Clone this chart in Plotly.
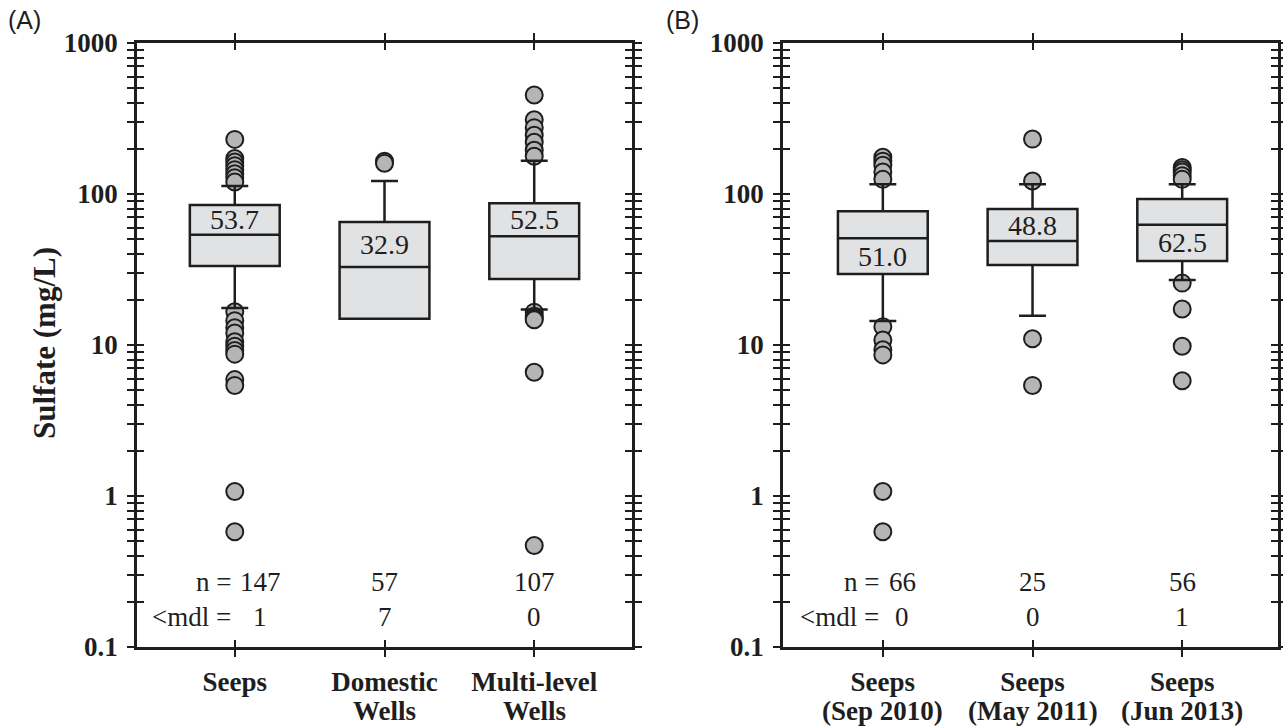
import plotly.graph_objects as go
import math

# ---------------- data ----------------
cat_pos = [0, 1, 2]
catA_line1 = ["Seeps", "Domestic", "Multi-level"]
catA_line2 = ["", "Wells", "Wells"]
catB_line1 = ["Seeps", "Seeps", "Seeps"]
catB_line2 = ["(Sep 2010)", "(May 2011)", "(Jun 2013)"]

q1_A = [33.4, 14.9, 27.4]
med_A = [53.7, 32.9, 52.5]
q3_A = [84.5, 65.3, 87.0]
lo_A = [17.6, 14.9, 17.2]
hi_A = [113, 122, 166]
out_A = [
    [230, 172, 163, 154, 145, 136, 128, 120, 16.6, 14.5, 13.0, 12.0, 10.5, 9.8, 9.2, 8.7, 5.9, 5.4, 1.07, 0.58],
    [165, 160],
    [453, 310, 275, 245, 220, 195, 178, 16.5, 15.5, 15.0, 14.7, 6.6, 0.47],
]
labelside_A = ["above", "above", "above"]
n_A = [147, 57, 107]
mdl_A = [1, 7, 0]

q1_B = [29.5, 33.9, 36.0]
med_B = [51.0, 48.8, 62.5]
q3_B = [77.0, 79.5, 92.7]
lo_B = [14.4, 15.6, 26.9]
hi_B = [116, 116, 116]
out_B = [
    [175, 165, 155, 140, 125, 13.2, 10.8, 9.3, 8.6, 1.07, 0.58],
    [231, 122, 11.0, 5.4],
    [150, 145, 140, 132, 125, 25.7, 17.3, 9.8, 5.8],
]
labelside_B = ["below", "above", "below"]
n_B = [66, 25, 56]
mdl_B = [0, 0, 1]

ytick_vals = [m * 10.0 ** e for e in range(-1, 3) for m in range(1, 10)] + [1000.0]
ytick_major = {0.1: "0.1", 1.0: "1", 10.0: "10", 100.0: "100", 1000.0: "1000"}

# ---------------- style ----------------
W, H = 1283, 727
INK = "#1e1e1e"
BOXFILL = "#e1e2e4"
PTFILL = "#b4b5b7"
SERIF = "Liberation Serif"
SANS = "Liberation Sans"
ydom = [1 - 647 / H, 1 - 43 / H]
xdomA = [137 / W, 632 / W]
xdomB = [783 / W, 1278 / W]
xrangeA = [-0.653, 2.653]
xrangeB = [-0.667, 2.64]
FS = 27


def ytext(v):
    for k, s in ytick_major.items():
        if abs(v - k) < 1e-9 * max(1, k):
            return "<b>" + s + "</b>"
    return ""


yticktext = [ytext(v) for v in ytick_vals]

fig = go.Figure()


def add_panel(xa, ya, xo, yo, q1, med, q3, lo, hi, outs):
    for i, vals in enumerate(outs):
        fig.add_trace(go.Scatter(
            x=[cat_pos[i]] * len(vals), y=vals, mode="markers",
            marker=dict(symbol="circle", size=17, color=PTFILL,
                        line=dict(color=INK, width=2)),
            xaxis=xa, yaxis=ya, showlegend=False, hoverinfo="skip"))
    fig.add_trace(go.Box(
        x=cat_pos, q1=q1, median=med, q3=q3, lowerfence=lo, upperfence=hi,
        width=0.6, whiskerwidth=0.3, fillcolor=BOXFILL,
        line=dict(color=INK, width=2.5), boxpoints=False,
        xaxis=xo, yaxis=yo, showlegend=False, hoverinfo="skip"))


add_panel("x", "y", "x3", "y3", q1_A, med_A, q3_A, lo_A, hi_A, out_A)
add_panel("x2", "y2", "x4", "y4", q1_B, med_B, q3_B, lo_B, hi_B, out_B)

common_line = dict(showline=True, linecolor=INK, linewidth=2.5, showgrid=False,
                   zeroline=False, tickcolor=INK, tickwidth=2, ticklen=7,
                   automargin=False)


def yaxis_main(anchor):
    return dict(type="log", range=[-1, 3], domain=ydom, anchor=anchor,
                tickmode="array", tickvals=ytick_vals, ticktext=yticktext,
                ticks="outside", mirror="ticks",
                tickfont=dict(family=SERIF, size=FS, color=INK),
                ticklabelstandoff=4, **common_line)


def yaxis_over(anchor, over):
    return dict(type="log", range=[-1, 3], domain=ydom, anchor=anchor,
                overlaying=over, tickmode="array", tickvals=ytick_vals,
                ticks="inside", mirror="ticks", showticklabels=False, **common_line)


def xaxis_main(anchor, dom, rng, text):
    return dict(range=rng, domain=dom, anchor=anchor, tickmode="array",
                tickvals=cat_pos, ticktext=["<b>" + t + "</b>" for t in text],
                ticks="outside", mirror="ticks",
                tickfont=dict(family=SERIF, size=FS, color=INK),
                ticklabelstandoff=2, **common_line)


def xaxis_over(anchor, dom, rng, over):
    return dict(range=rng, domain=dom, anchor=anchor, overlaying=over,
                tickmode="array", tickvals=cat_pos, ticks="inside",
                mirror="ticks", showticklabels=False, **common_line)


fig.update_layout(
    width=W, height=H, margin=dict(l=0, r=0, t=0, b=0, autoexpand=False),
    paper_bgcolor="white", plot_bgcolor="rgba(0,0,0,0)",
    showlegend=False,
    xaxis=xaxis_main("y", xdomA, xrangeA, catA_line1),
    yaxis=yaxis_main("x"),
    xaxis2=xaxis_main("y2", xdomB, xrangeB, catB_line1),
    yaxis2=yaxis_main("x2"),
    xaxis3=xaxis_over("y3", xdomA, xrangeA, "x"),
    yaxis3=yaxis_over("x3", "y"),
    xaxis4=xaxis_over("y4", xdomB, xrangeB, "x2"),
    yaxis4=yaxis_over("x4", "y2"),
)

ann = []


def panel_annotations(xref, yref, line2, med, q1, q3, sides, ns, mdls, off0):
    for i in cat_pos:
        if line2[i]:
            ann.append(dict(text="<b>" + line2[i] + "</b>", x=cat_pos[i], xref=xref,
                            y=ydom[0], yref="paper", yanchor="top", yshift=-47,
                            showarrow=False,
                            font=dict(family=SERIF, size=FS, color=INK)))
        other = q3[i] if sides[i] == "above" else q1[i]
        ymid = (math.log10(med[i]) + math.log10(other)) / 2
        ann.append(dict(text=f"{med[i]:.1f}", x=cat_pos[i], xref=xref, y=ymid, yref=yref,
                        showarrow=False, yanchor="middle",
                        font=dict(family=SERIF, size=FS + 1, color=INK)))
        off = off0 if i == 0 else 0.0
        ann.append(dict(text=str(ns[i]), x=cat_pos[i] + off, xref=xref, y=-0.57, yref=yref,
                        showarrow=False, xanchor="center",
                        font=dict(family=SERIF, size=FS, color=INK)))
        ann.append(dict(text=str(mdls[i]), x=cat_pos[i] + off, xref=xref, y=-0.80, yref=yref,
                        showarrow=False, xanchor="center",
                        font=dict(family=SERIF, size=FS, color=INK)))
    ann.append(dict(text="n =", x=cat_pos[0] - 0.01, xref=xref, y=-0.57, yref=yref,
                    showarrow=False, xanchor="right",
                    font=dict(family=SERIF, size=FS, color=INK)))
    ann.append(dict(text="&lt;mdl =", x=cat_pos[0] - 0.01, xref=xref, y=-0.80, yref=yref,
                    showarrow=False, xanchor="right",
                    font=dict(family=SERIF, size=FS, color=INK)))


panel_annotations("x", "y", catA_line2, med_A, q1_A, q3_A, labelside_A, n_A, mdl_A, 0.17)
panel_annotations("x2", "y2", catB_line2, med_B, q1_B, q3_B, labelside_B, n_B, mdl_B, 0.13)

ann.append(dict(text="<b>Sulfate (mg/L)</b>", x=45 / W, y=1 - 343 / H, xref="paper", yref="paper",
                textangle=-90, showarrow=False, xanchor="center", yanchor="middle",
                font=dict(family=SERIF, size=31, color=INK)))
ann.append(dict(text="(A)", x=6 / W, y=1 - 4 / H, xref="paper", yref="paper",
                showarrow=False, xanchor="left", yanchor="top",
                font=dict(family=SANS, size=25, color=INK)))
ann.append(dict(text="(B)", x=664 / W, y=1 - 4 / H, xref="paper", yref="paper",
                showarrow=False, xanchor="left", yanchor="top",
                font=dict(family=SANS, size=25, color=INK)))

fig.update_layout(annotations=ann)
fig.write_html("out.html")
